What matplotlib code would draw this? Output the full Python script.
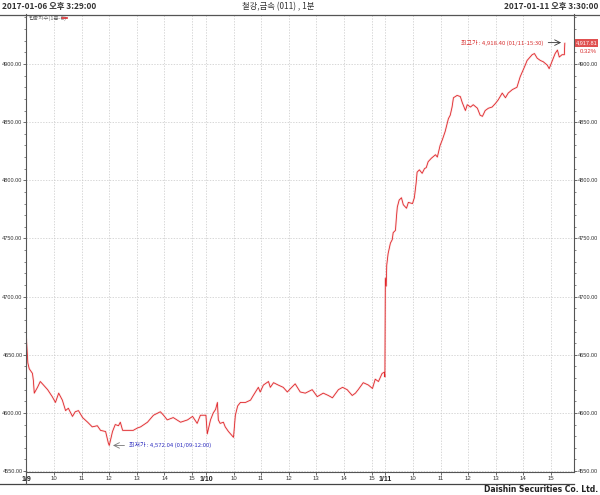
import matplotlib
matplotlib.use("Agg")
import matplotlib.pyplot as plt
from matplotlib.lines import Line2D
from matplotlib.patches import Rectangle

plt.rcParams['font.family'] = ['Noto Sans CJK KR', 'DejaVu Sans']

# 1-minute index chart, three sessions (09:00 - 15:30)
day_labels = ["1/9", "1/10", "1/11"]
hour_labels = ["10", "11", "12", "13", "14", "15"]

day1_times = ["09:00", "09:03", "09:06", "09:13", "09:15", "09:17", "09:24", "09:30", "09:37", "09:46",
              "09:56", "10:03", "10:10", "10:18", "10:25", "10:31", "10:40", "10:46", "10:53", "11:02",
              "11:13", "11:23", "11:34", "11:41", "11:52", "11:58", "12:00", "12:07", "12:13", "12:20",
              "12:24", "12:29", "12:39", "12:52", "13:01", "13:08", "13:23", "13:36", "13:51", "13:58",
              "14:06", "14:19", "14:35", "14:50", "15:01", "15:11", "15:18", "15:29"]
day1_vals = [4663, 4643, 4638, 4634, 4628, 4617, 4622, 4627, 4624, 4620,
             4614, 4609, 4617, 4611, 4602, 4604, 4597, 4601, 4602, 4596,
             4592, 4588, 4589, 4585, 4584, 4574, 4572.04, 4584, 4590, 4589,
             4592, 4585, 4585, 4585, 4587, 4588, 4592, 4598, 4601, 4598,
             4594, 4596, 4592, 4594, 4597, 4591, 4598, 4598]

day2_times = ["09:00", "09:03", "09:10", "09:16", "09:21", "09:25", "09:27", "09:31", "09:38", "09:42",
              "09:49", "09:58", "10:00", "10:04", "10:09", "10:15", "10:26", "10:37", "10:43", "10:54",
              "10:58", "11:05", "11:16", "11:20", "11:27", "11:37", "11:48", "11:57", "12:04", "12:14",
              "12:25", "12:36", "12:51", "13:02", "13:15", "13:26", "13:35", "13:48", "13:57", "14:07",
              "14:18", "14:25", "14:31", "14:42", "14:53", "15:02", "15:08", "15:15", "15:23", "15:28",
              "15:29"]
day2_vals = [4598, 4582, 4594, 4600, 4603, 4609, 4594, 4591, 4592, 4588,
             4584, 4580, 4579, 4598, 4606, 4609, 4609, 4611, 4615, 4622,
             4618, 4624, 4627, 4622, 4626, 4624, 4622, 4618, 4621, 4625,
             4618, 4617, 4620, 4614, 4617, 4615, 4613, 4620, 4622, 4620,
             4615, 4617, 4620, 4626, 4624, 4621, 4629, 4627, 4634, 4635,
             4631]

day3_times = ["09:00", "09:02", "09:03", "09:06", "09:11", "09:15", "09:17", "09:22", "09:24", "09:26",
              "09:30", "09:35", "09:39", "09:46", "09:50", "09:59", "10:03", "10:07", "10:09", "10:14",
              "10:20", "10:25", "10:29", "10:33", "10:40", "10:49", "10:53", "10:59", "11:04", "11:10",
              "11:15", "11:17", "11:21", "11:25", "11:28", "11:36", "11:43", "11:47", "11:54", "11:58",
              "12:05", "12:11", "12:20", "12:26", "12:31", "12:37", "12:44", "12:52", "12:59", "13:05",
              "13:14", "13:21", "13:27", "13:36", "13:46", "13:53", "14:04", "14:08", "14:19", "14:24",
              "14:30", "14:37", "14:43", "14:52", "14:56", "15:03", "15:09", "15:14", "15:18", "15:24",
              "15:29", "15:30"]
day3_vals = [4716, 4709, 4727, 4737, 4746, 4749, 4755, 4757, 4768, 4777,
             4783, 4785, 4779, 4776, 4781, 4780, 4785, 4798, 4807, 4809,
             4806, 4810, 4811, 4816, 4819, 4822, 4820, 4830, 4835, 4842,
             4850, 4853, 4856, 4863, 4871, 4873, 4872, 4867, 4860, 4865,
             4863, 4865, 4862, 4856, 4855, 4860, 4862, 4863, 4866, 4869,
             4875, 4871, 4875, 4878, 4880, 4889, 4899, 4903, 4908, 4909,
             4905, 4903, 4902, 4899, 4896, 4903, 4909, 4912, 4906, 4908,
             4908, 4917.81]

high_val, high_txt = 4918.40, "최고가 : 4,918.40 (01/11-15:30)"
low_val, low_txt = 4572.04, "최저가 : 4,572.04 (01/09-12:00)"
last_txt, chg_txt = "4,917.81", "0.32%"


def to_idx(day, t):
    h, m = t.split(":")
    return day * 390 + (int(h) - 9) * 60 + int(m)


xs, ys = [], []
for d, (tt, vv) in enumerate([(day1_times, day1_vals), (day2_times, day2_vals), (day3_times, day3_vals)]):
    xs += [to_idx(d, t) for t in tt]
    ys += vv

W, H = 600, 495
fig = plt.figure(figsize=(W / 100, H / 100), dpi=100)
ax = fig.add_axes([26 / W, 1 - 472 / H, (574 - 26) / W, (472 - 14) / H])

red = '#e0262a'
ax.plot(xs, ys, color='#f6b0b0', lw=1.6, alpha=0.35, solid_joinstyle='round')
ax.plot(xs, ys, color=red, lw=0.6)

ax.set_xlim(-1, 1190)
ax.set_ylim(4549.2, 4943)

num_font = 'Liberation Sans'

# x ticks: day starts + hours
ticks, labels = [], []
for d, dl in enumerate(day_labels):
    ticks.append(d * 390)
    labels.append(dl)
    for i, hl in enumerate(hour_labels):
        ticks.append(d * 390 + (i + 1) * 60)
        labels.append(hl)
ax.set_xticks(ticks)
ax.set_xticklabels(labels, fontsize=4.3, color='#333333', family=num_font)
for lab in ax.get_xticklabels():
    if lab.get_text() in day_labels:
        lab.set_fontweight('bold')
        lab.set_fontsize(5)
        lab.set_color('#222222')

yt = list(range(4550, 4901, 50))
ax.set_yticks(yt)
ax.set_yticklabels([f"{v:.2f}" for v in yt], fontsize=4, color='#333333', family=num_font)
ax.set_yticks(list(range(4550, 4941, 10)), minor=True)
ax.tick_params(axis='y', which='both', left=True, right=True, labelleft=True, labelright=True,
               direction='out', color='#555555', pad=0.5)
ax.tick_params(axis='y', which='major', length=2, width=0.6)
ax.tick_params(axis='y', which='minor', length=1.5, width=0.5)
ax.tick_params(axis='x', length=2, width=0.6, color='#555555', pad=1)

ax.grid(True, which='major', color='#c8c8c8', linestyle=(0, (2, 2)), linewidth=0.5)
ax.spines['top'].set_visible(False)
for s in ['left', 'right', 'bottom']:
    ax.spines[s].set_color('#555555')
    ax.spines[s].set_linewidth(0.8)

# high / low annotations
ax.annotate('', xy=(1168, high_val), xytext=(1128, high_val),
            arrowprops=dict(arrowstyle='->', color='#333333', lw=0.6))
ax.text(1124, high_val, high_txt, fontsize=4.3, color='#d83030', ha='right', va='center')
ax.annotate('', xy=(182, low_val), xytext=(219, low_val),
            arrowprops=dict(arrowstyle='->', color='#777777', lw=0.6))
ax.text(222, low_val, low_txt, fontsize=4.3, color='#3030c0', ha='left', va='center')

# header
fig.text(2 / W, 1 - 7 / H, "2017-01-06 오후 3:29:00", fontsize=6, fontweight='bold', color='#333333', va='center')
fig.text(598 / W, 1 - 7 / H, "2017-01-11 오후 3:30:00", fontsize=6, fontweight='bold', color='#333333',
         va='center', ha='right')
fig.text(278 / W, 1 - 7 / H, "철강,금속 (011) , 1분", fontsize=6, color='#333333', va='center', ha='center')
fig.add_artist(Line2D([0, 1], [1 - 14.5 / H, 1 - 14.5 / H], color='#555555', lw=0.9))
fig.text(29 / W, 1 - 18 / H, "업종지수(1분-C)", fontsize=4, color='#666666', va='center')
fig.add_artist(Line2D([62 / W, 67 / W], [1 - 18 / H, 1 - 18 / H], color=red, lw=1.2))

# last price box
fig.add_artist(Rectangle((575 / W, 1 - 46.5 / H), 23 / W, 8 / H, facecolor='#e05050', edgecolor='none'))
fig.text(586.5 / W, 1 - 42.5 / H, last_txt, fontsize=4, color='white', ha='center', va='center',
         family=num_font)
fig.text(597 / W, 1 - 51.5 / H, chg_txt, fontsize=4.3, color='#d83030', ha='right', va='center',
         family=num_font)

# footer
fig.add_artist(Line2D([0, 574 / W], [1 - 484 / H, 1 - 484 / H], color='#444444', lw=0.9))
fig.add_artist(Line2D([26 / W, 26 / W], [1 - 484 / H, 1 - 472 / H], color='#555555', lw=0.8))
fig.text(598 / W, 1 - 490 / H, "Daishin Securities Co. Ltd.", fontsize=5.5, fontweight='bold',
         color='#222222', ha='right', va='center', family='DejaVu Sans')

fig.savefig("out.png", dpi=100, facecolor='white')
